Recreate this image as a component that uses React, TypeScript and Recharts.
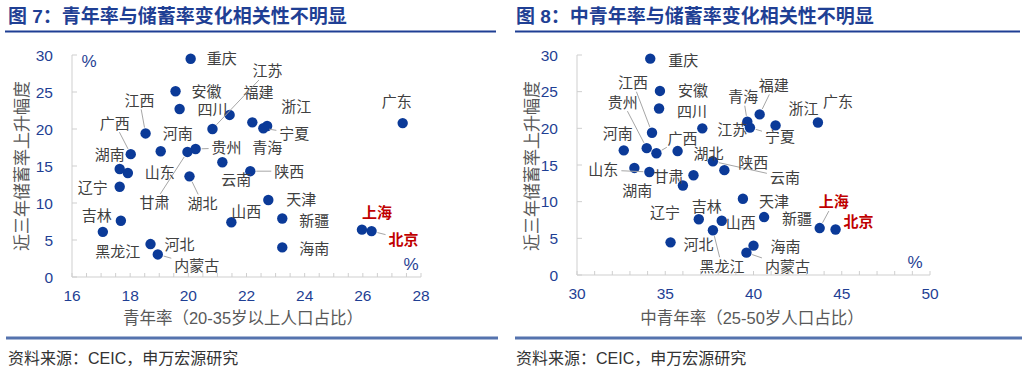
import React from "react";
import { ScatterChart, Scatter, XAxis, YAxis } from "recharts";

// provinces, shared by both charts
const provinces = [
  "重庆", "安徽", "四川", "福建", "青海", "浙江", "宁夏", "江苏", "广东", "江西",
  "贵州", "河南", "甘肃", "广西", "云南", "湖南", "陕西", "山东", "湖北", "辽宁",
  "天津", "新疆", "吉林", "山西", "上海", "北京", "黑龙江", "河北", "海南", "内蒙古",
];
// 近三年储蓄率上升幅度 (%)
const savingsRise = [
  29.5, 25.1, 22.7, 21.9, 20.9, 20.4, 20.1, 20.0, 20.8, 19.4,
  17.3, 17.0, 16.9, 16.6, 15.5, 14.6, 14.3, 14.05, 13.6, 12.2,
  10.4, 7.9, 7.6, 7.4, 6.4, 6.2, 6.1, 4.45, 4.0, 3.05,
];
// 青年率 (20-35岁人口占比)
const youthRate = [
  20.08, 19.56, 19.7, 21.42, 22.2, 22.71, 22.58, 20.83, 27.37, 18.53,
  20.25, 19.05, 19.97, 18.02, 21.17, 17.64, 22.13, 17.92, 20.04, 17.64,
  22.75, 23.23, 17.68, 21.48, 25.97, 26.3, 17.06, 18.7, 23.23, 18.95,
];
// 中青年率 (25-50岁人口占比)
const midYouthRate = [
  34.15, 34.7, 34.65, 40.35, 39.65, 41.25, 39.8, 37.1, 43.65, 34.25,
  33.95, 32.65, 35.7, 34.5, 37.7, 33.25, 38.35, 34.1, 36.6, 36.0,
  39.4, 40.6, 36.9, 38.2, 43.75, 44.65, 37.7, 35.3, 40.0, 39.6,
];

const leftXTicks = [
  16, 16.5, 17, 17.5, 18, 18.5, 19, 19.5, 20, 20.5, 21, 21.5, 22, 22.5,
  23, 23.5, 24, 24.5, 25, 25.5, 26, 26.5, 27, 27.5, 28,
];
const rightXTicks = [
  30, 31, 32, 33, 34, 35, 36, 37, 38, 39, 40, 41, 42, 43, 44, 45, 46, 47, 48, 49, 50,
];
const yTicks = [0, 5, 10, 15, 20, 25, 30];

// label placement: [dx, dy, leader line?]
const leftLabelLayout: Record<string, number[]> = {
  重庆: [31, 0], 安徽: [31, 0], 四川: [33, 1], 福建: [29, -22], 青海: [15, 25],
  浙江: [29, -19], 宁夏: [31, 5, 1], 江苏: [55, -58, 1], 广东: [-6, -21],
  江西: [-6, -33, 1], 贵州: [31, -1, 1], 河南: [17, -18], 甘肃: [-33, 51, 1],
  广西: [-16, -31, 1], 云南: [14, 17], 湖南: [-10, -14], 陕西: [39, 0, 1],
  山东: [32, 0], 湖北: [13, 27, 1], 辽宁: [-27, 1], 天津: [33, 0], 新疆: [32, 2],
  吉林: [-24, -5], 山西: [15, -11], 上海: [15, -17], 北京: [32, 8, 1],
  黑龙江: [15, 20], 河北: [29, 1], 海南: [32, 1], 内蒙古: [39, 11, 1],
};
const rightLabelLayout: Record<string, number[]> = {
  重庆: [33, 2], 安徽: [33, 0], 四川: [33, 3], 福建: [14, -29, 1], 青海: [-4, -25, 1],
  浙江: [28, -17], 宁夏: [30, 9, 1], 江苏: [30, 1], 广东: [20, -21],
  江西: [-19, -50, 1], 贵州: [-24, -46, 1], 河南: [-6, -17], 甘肃: [-9, 26],
  广西: [26, -15, 1], 云南: [72, 16, 1], 湖南: [3, 23], 陕西: [29, -8],
  山东: [-46, -2, 1], 湖北: [15, -22], 辽宁: [-18, 27], 天津: [31, 3], 新疆: [33, 2],
  吉林: [8, -13], 山西: [19, 2], 上海: [14, -26, 1], 北京: [23, -8],
  黑龙江: [9, 36, 1], 河北: [28, 2], 海南: [32, 1], 内蒙古: [41, 14, 1],
};

const leftData = provinces.map((name, i) => ({ name, x: youthRate[i], y: savingsRise[i] }));
const rightData = provinces.map((name, i) => ({ name, x: midYouthRate[i], y: savingsRise[i] }));

const CJK = "'Noto Sans CJK SC', sans-serif";
const NUM = "'Liberation Sans', 'Noto Sans CJK SC', sans-serif";
const BLUE = "#1f3f94";
const DOT = "#0b3a98";
const AXIS = "#cfcfcf";

const Dot = (props: any) => <circle cx={props.cx} cy={props.cy} r={5.2} fill={DOT} />;

function makeLabel(layout: Record<string, number[]>) {
  return (props: any) => {
    const { cx, cy, payload } = props;
    const name: string = payload.name;
    const [dx, dy, leader] = layout[name] ?? [30, 0, 0];
    const red = name === "上海" || name === "北京";
    let line = null;
    if (leader) {
      const halfW = name.length * 7.5 + 3;
      const halfH = 9;
      const adx = Math.abs(dx);
      const ady = Math.abs(dy);
      const tx = adx > 0 ? (adx - halfW) / adx : -1;
      const ty = ady > 0 ? (ady - halfH) / ady : -1;
      const t = Math.max(tx, ty, 0);
      const s = 6 / Math.hypot(dx, dy);
      line = (
        <line x1={cx + dx * s} y1={cy + dy * s} x2={cx + dx * t} y2={cy + dy * t}
          stroke="#a6a6a6" strokeWidth={1} />
      );
    }
    return (
      <g>
        {line}
        <text x={cx + dx} y={cy + dy} dy="0.36em" textAnchor="middle" fontSize={15}
          fontFamily={CJK} fill={red ? "#c00000" : "#404040"} fontWeight={red ? 700 : 400}>
          {name}
        </text>
      </g>
    );
  };
}

const XTick = (props: any) => {
  const { x, y, payload, step } = props;
  const major = Math.abs(payload.value / step - Math.round(payload.value / step)) < 1e-6;
  return (
    <g>
      <line x1={x} x2={x} y1={y} y2={y - 4} stroke={AXIS} />
      {major && (
        <text x={x} y={y + 18} dy="0.36em" textAnchor="middle" fontSize={15.5}
          fontFamily={NUM} fill={BLUE}>
          {payload.value}
        </text>
      )}
    </g>
  );
};

const YTick = (props: any) => {
  const { x, y, payload } = props;
  return (
    <g>
      <line x1={x} x2={x + 5} y1={y} y2={y} stroke={AXIS} />
      <text x={x - 19} y={y} dy="0.36em" textAnchor="end" fontSize={15.5}
        fontFamily={NUM} fill={BLUE}>
        {payload.value}
      </text>
    </g>
  );
};

function Panel(props: {
  data: any[]; domain: number[]; ticks: number[]; step: number;
  layout: Record<string, number[]>; margin: any;
}) {
  const { data, domain, ticks, step, layout, margin } = props;
  return (
    <ScatterChart width={512} height={372} margin={margin}>
      <XAxis type="number" dataKey="x" domain={domain} ticks={ticks} interval={0}
        height={30} tickSize={0} tickMargin={0} tickLine={false}
        axisLine={{ stroke: AXIS }}
        tick={(p: any) => <XTick {...p} step={step} />} />
      <YAxis type="number" dataKey="y" domain={[0, 30]} ticks={yTicks} interval={0}
        width={40} tickSize={0} tickMargin={0} tickLine={false}
        axisLine={{ stroke: AXIS }}
        tick={(p: any) => <YTick {...p} />} />
      <Scatter data={data} shape={Dot} isAnimationActive={false} />
      <Scatter data={data} shape={makeLabel(layout)} isAnimationActive={false} />
    </ScatterChart>
  );
}

export default function App() {
  return (
    <div style={{ position: "absolute", left: 0, top: 0, width: 1024, height: 372, background: "#fff" }}>
      <div style={{ position: "absolute", left: 0, top: 0 }}>
        <Panel data={leftData} domain={[16, 28]} ticks={leftXTicks} step={2}
          layout={leftLabelLayout} margin={{ top: 55, right: 91, bottom: 65, left: 32 }} />
      </div>
      <div style={{ position: "absolute", left: 512, top: 0 }}>
        <Panel data={rightData} domain={[30, 50]} ticks={rightXTicks} step={5}
          layout={rightLabelLayout} margin={{ top: 55, right: 94, bottom: 67, left: 25 }} />
      </div>
      <svg width={1024} height={372} style={{ position: "absolute", left: 0, top: 0, pointerEvents: "none" }}>
        <text x={8} y={16.5} dy="0.36em" fontSize={19} fontWeight={700} fontFamily={NUM} fill={BLUE}>
          图 7：青年率与储蓄率变化相关性不明显
        </text>
        <text x={516} y={16.5} dy="0.36em" fontSize={19} fontWeight={700} fontFamily={NUM} fill={BLUE}>
          图 8：中青年率与储蓄率变化相关性不明显
        </text>
        <line x1={5} x2={496} y1={31.5} y2={31.5} stroke={BLUE} strokeWidth={2} />
        <line x1={515} x2={1020} y1={31.5} y2={31.5} stroke={BLUE} strokeWidth={2} />

        <text transform="translate(22,166) rotate(-90)" dy="0.36em" textAnchor="middle"
          fontSize={17} fontFamily={CJK} fill="#595959">近三年储蓄率上升幅度</text>
        <text transform="translate(532,166) rotate(-90)" dy="0.36em" textAnchor="middle"
          fontSize={17} fontFamily={CJK} fill="#595959">近三年储蓄率上升幅度</text>
        <text x={243} y={318} dy="0.36em" textAnchor="middle" fontSize={16.5} fontFamily={NUM}
          fill="#595959">青年率（20-35岁以上人口占比）</text>
        <text x={752} y={318} dy="0.36em" textAnchor="middle" fontSize={16.5} fontFamily={NUM}
          fill="#595959">中青年率（25-50岁人口占比）</text>

        <text x={89} y={61} dy="0.36em" textAnchor="middle" fontSize={17} fontFamily={NUM} fill={BLUE}>%</text>
        <text x={411} y={264} dy="0.36em" textAnchor="middle" fontSize={17} fontFamily={NUM} fill={BLUE}>%</text>
        <text x={915} y={262} dy="0.36em" textAnchor="middle" fontSize={17} fontFamily={NUM} fill={BLUE}>%</text>

        <line x1={6} x2={498} y1={338} y2={338} stroke="#5573ae" strokeWidth={3} />
        <line x1={515} x2={1022} y1={338} y2={338} stroke="#5573ae" strokeWidth={3} />
        <text x={8} y={358} dy="0.36em" fontSize={16} fontFamily={NUM} fill="#333">资料来源：CEIC，申万宏源研究</text>
        <text x={516} y={358} dy="0.36em" fontSize={16} fontFamily={NUM} fill="#333">资料来源：CEIC，申万宏源研究</text>
      </svg>
    </div>
  );
}
